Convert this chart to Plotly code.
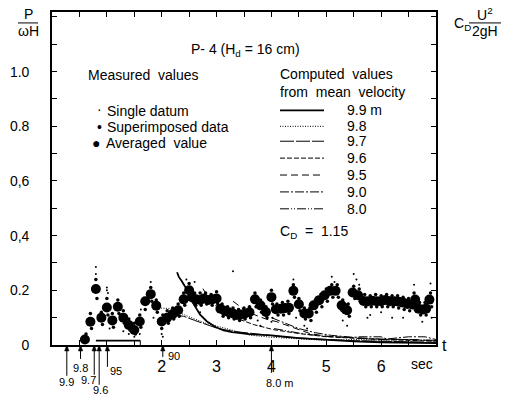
import plotly.graph_objects as go

# ---------------- data ----------------
avg_t = [0.60,0.70,0.80,0.90,1.00,1.10,1.20,1.30,1.40,1.50,1.60,1.70,1.80,1.90,2.00,2.10,2.20,2.30,2.40,2.50,
         2.55,2.62,2.70,2.77,2.85,2.92,3.00,3.07,3.15,3.22,3.30,3.37,3.45,3.52,3.60,3.70,3.80,3.90,4.00,4.08,
         4.17,4.25,4.32,4.40,4.50,4.60,4.68,4.77,4.87,4.97,5.07,5.17,5.28,5.33,5.38,5.48,5.58,5.68,5.76,5.84,
         5.92,6.00,6.08,6.16,6.24,6.32,6.40,6.48,6.57,6.62,6.68,6.76,6.82,6.88]
avg_v = [0.020,0.085,0.205,0.100,0.137,0.090,0.140,0.100,0.073,0.055,0.086,0.160,0.186,0.144,0.086,0.100,0.113,0.127,0.167,0.200,
         0.175,0.167,0.165,0.170,0.165,0.167,0.170,0.133,0.125,0.120,0.115,0.110,0.112,0.115,0.120,0.167,0.145,0.121,0.175,0.131,
         0.133,0.135,0.136,0.198,0.149,0.115,0.115,0.145,0.164,0.182,0.198,0.198,0.145,0.135,0.127,0.192,0.182,0.161,0.160,0.162,
         0.160,0.160,0.165,0.160,0.160,0.158,0.155,0.150,0.148,0.166,0.133,0.130,0.133,0.166]

sup_t = [0.62,0.70,0.72,0.80,0.82,0.90,0.92,1.00,1.02,1.10,1.12,1.20,1.22,1.30,1.32,1.40,1.42,1.50,1.52,1.60,
         1.62,1.70,1.80,1.82,1.90,1.92,2.00,2.02,2.10,2.12,2.20,2.22,2.30,2.32,2.40,2.42,2.50,2.52,2.60,2.62,
         2.70,2.72,2.80,2.82,2.90,2.92,3.00,3.02,3.10,3.12,3.20,3.22,3.30,3.32,3.40,3.42,3.50,3.52,3.60,3.62,
         3.70,3.72,3.80,3.82,3.90,3.92,4.00,4.02,4.10,4.12,4.20,4.22,4.30,4.32,4.40,4.42,4.50,4.52,4.60,4.62,
         4.70,4.72,4.80,4.82,4.90,4.92,5.00,5.02,5.10,5.12,5.20,5.22,5.30,5.32,5.40,5.42,5.50,5.52,5.60,5.62,
         5.70,5.72,5.80,5.82,5.90,5.92,6.00,6.02,6.10,6.12,6.20,6.22,6.30,6.32,6.40,6.42,6.50,6.52,6.60,6.62,
         6.70,6.72,6.80,6.82,6.90,6.92]
sup_v = [0.040,0.115,0.060,0.240,0.170,0.120,0.075,0.170,0.110,0.115,0.065,0.165,0.115,0.125,0.080,0.095,0.055,0.080,0.040,0.110,
         0.065,0.130,0.210,0.160,0.165,0.120,0.060,0.110,0.125,0.080,0.135,0.095,0.150,0.105,0.190,0.145,0.225,0.180,0.190,0.145,
         0.190,0.145,0.190,0.150,0.185,0.145,0.195,0.150,0.150,0.105,0.140,0.100,0.135,0.095,0.130,0.090,0.135,0.095,0.140,0.100,
         0.190,0.140,0.165,0.120,0.140,0.100,0.200,0.150,0.150,0.110,0.155,0.110,0.160,0.115,0.220,0.175,0.170,0.125,0.135,0.095,
         0.135,0.090,0.165,0.120,0.185,0.140,0.205,0.160,0.220,0.175,0.220,0.175,0.165,0.120,0.150,0.105,0.215,0.170,0.205,0.160,
         0.185,0.140,0.180,0.140,0.185,0.140,0.180,0.140,0.185,0.140,0.180,0.140,0.180,0.135,0.175,0.130,0.170,0.125,0.190,0.140,
         0.155,0.110,0.155,0.110,0.190,0.140]

single_t = [0.80,0.80,1.00,1.00,1.02,1.05,1.30,1.40,1.50,1.60,1.62,1.80,1.85,2.00,2.02,2.45,2.60,2.70,3.30,3.75,
            3.80,4.00,4.02,4.40,4.45,4.60,4.65,5.10,5.15,5.30,5.38,5.50,5.55,5.60,5.75,5.80,6.00,6.20,6.40,6.60,
            6.75,6.90,6.92]
single_v = [0.285,0.260,0.210,0.200,0.190,0.060,0.050,0.040,0.030,0.040,0.130,0.230,0.100,0.040,0.030,0.240,0.230,0.120,0.270,0.090,
            0.070,0.085,0.100,0.240,0.100,0.070,0.060,0.250,0.230,0.090,0.070,0.260,0.240,0.220,0.100,0.110,0.120,0.100,0.100,0.220,
            0.085,0.225,0.100]

# computed values from mean velocity (distance in m)
c99_t = [2.28,2.31,2.37,2.46,2.52,2.61,2.70,2.82,2.98,3.13,3.28,3.60,4.00,4.50,5.00,5.50,6.00,6.50,7.00]
c99_v = [0.266,0.250,0.232,0.202,0.171,0.141,0.111,0.087,0.066,0.053,0.047,0.040,0.035,0.025,0.018,0.013,0.010,0.008,0.007]
c98_t = [1.85,2.00,2.20,2.30,2.50,2.81,3.18,3.60,4.02,4.50,5.00,5.50,6.00,6.50,7.00]
c98_v = [0.133,0.135,0.133,0.120,0.103,0.079,0.060,0.036,0.028,0.022,0.017,0.020,0.018,0.020,0.015]
c97_t = [2.20,2.40,2.60,2.80,3.00,3.30,3.70,4.20,4.80,5.50,6.20,7.00]
c97_v = [0.110,0.105,0.090,0.075,0.062,0.050,0.040,0.030,0.022,0.016,0.013,0.010]
c96_t = [2.75,2.88,3.00,3.19,3.43,3.67,4.04,4.50,5.00,5.50,6.00,6.50,7.00]
c96_v = [0.206,0.165,0.141,0.117,0.093,0.075,0.056,0.042,0.030,0.024,0.020,0.017,0.014]
c95_t = [3.30,3.50,3.70,3.90,4.10,4.30,4.50,4.70,5.00,5.50,6.00,6.50,7.00]
c95_v = [0.160,0.130,0.110,0.095,0.085,0.070,0.055,0.042,0.032,0.025,0.020,0.020,0.016]
c90_t = [4.00,4.20,4.50,4.80,5.10,5.50,5.60,6.00,6.10,6.50,6.80,7.00]
c90_v = [0.100,0.085,0.060,0.045,0.035,0.028,0.030,0.030,0.022,0.030,0.030,0.020]
c80_t = [4.05,4.30,4.60,5.00,5.50,6.00,6.50,7.00]
c80_v = [0.060,0.050,0.040,0.032,0.026,0.022,0.020,0.017]

curve_names = ["9.9 m", "9.8", "9.7", "9.6", "9.5", "9.0", "8.0"]

# arrival of front at each distance (sec)
arrive_t = [0.27, 0.52, 0.77, 0.86, 1.01, 2.02, 4.00]
arrive_lbl = ["9.9", "9.8", "9.7", "9.6", "95", "90", "8.0 m"]

window_t = [0.80, 1.61]
window_v = [0.016, 0.016]

ytick_vals = [0, 0.2, 0.4, 0.6, 0.8, 1.0]
ytick_text = ["0", "0.2", "0,4", "0,6", "0.8", "1.0"]
xtick_vals = [2, 3, 4, 5, 6]
xtick_text = ["2", "3", "4", "5", "6"]

# ---------------- layout helpers ----------------
L, T, W, H = 52, 10, 384, 335
XMAX = 7.0
FONT = "Liberation Sans, Arial, sans-serif"


def px(x):
    return (x - L) / W


def py(y):
    return (T + H - y) / H


fig = go.Figure()

styles = [
    dict(width=1.8, dash="solid"),
    dict(width=1, dash="1px,1.5px"),
    dict(width=1, dash="14px,2px"),
    dict(width=1, dash="5px,2px"),
    dict(width=1, dash="7px,4px"),
    dict(width=1, dash="9px,2px,2px,2px"),
    dict(width=1, dash="9px,2px,1px,2px,1px,2px"),
]
curves = [(c99_t, c99_v), (c98_t, c98_v), (c97_t, c97_v), (c96_t, c96_v),
          (c95_t, c95_v), (c90_t, c90_v), (c80_t, c80_v)]
for (ct, cv), st, nm in zip(curves, styles, curve_names):
    fig.add_trace(go.Scatter(x=ct, y=cv, mode="lines", name=nm,
                             line=dict(color="black", width=st["width"], dash=st["dash"]),
                             showlegend=False, hoverinfo="skip"))

fig.add_trace(go.Scatter(x=window_t, y=window_v, mode="lines",
                         line=dict(color="black", width=1.6), showlegend=False))

fig.add_trace(go.Scatter(x=single_t, y=single_v, mode="markers", name="Single datum",
                         marker=dict(color="black", size=2), showlegend=False))
fig.add_trace(go.Scatter(x=sup_t, y=sup_v, mode="markers", name="Superimposed data",
                         marker=dict(color="black", size=3.5), showlegend=False))
fig.add_trace(go.Scatter(x=avg_t, y=avg_v, mode="markers", name="Averaged value",
                         marker=dict(color="black", size=10), showlegend=False))

ann = []
shapes = []


def txt(x, y, s, size=14, xa="left", ya="middle"):
    ann.append(dict(x=px(x), y=py(y), xref="paper", yref="paper", text=s, showarrow=False,
                    xanchor=xa, yanchor=ya, font=dict(size=size, color="black", family=FONT)))


# axis title P / ωH
txt(28, 12, "P", 14, "center")
txt(28, 29, "ωH", 14, "center")
# right label CD U²/2gH
txt(452, 22, "C<sub>D</sub>", 14, "left")
txt(485, 12, "U<sup>2</sup>", 14, "center")
txt(485, 29, "2gH", 14, "center")

# title / legend texts
txt(245, 48, "P- 4 (H<sub>d</sub> = 16 cm)", 14, "center")
txt(86, 73, "Measured  values", 14)
txt(99, 108, "·", 14, "center")
txt(105, 110, "Single datum", 14)
txt(99, 126, "•", 14, "center")
txt(105, 126, "Superimposed data", 14)
txt(96, 142, "●", 14, "center")
txt(104, 142, "Averaged  value", 14)
txt(278, 72, "Computed  values", 14)
txt(278, 90, "from  mean  velocity", 14)

leg_y = [109, 125, 140, 157, 174, 191, 208]
for yy, st, nm in zip(leg_y, styles, curve_names):
    shapes.append(dict(type="line", xref="paper", yref="paper", x0=px(280), x1=px(324),
                       y0=py(yy), y1=py(yy), line=dict(color="black", width=st["width"], dash=st["dash"])))
    txt(345, yy, nm, 14)
txt(278, 231, "C<sub>D</sub>  =  1.15", 14)

# fraction bars
shapes.append(dict(type="line", xref="paper", yref="paper", x0=px(18), x1=px(38),
                   y0=py(21), y1=py(21), line=dict(color="black", width=1)))
shapes.append(dict(type="line", xref="paper", yref="paper", x0=px(469), x1=px(501),
                   y0=py(21), y1=py(21), line=dict(color="black", width=1)))
# end tick of the window bar
shapes.append(dict(type="line", xref="x", yref="y", x0=window_t[1], x1=window_t[1],
                   y0=0, y1=window_v[1], line=dict(color="black", width=1)))

# x-axis extras
txt(422, 364, "sec", 14, "center")
txt(444, 345, "t", 16, "center")

# arrows under the axis (line + small arrowhead pointing up to the axis)
arrow_len = [31, 14, 30, 40, 22, 12, 28]
lbl_pos = [(66, 382), (80, 368), (88, 380), (100, 390), (116, 371), (174, 356), (280, 383)]
head_dx = 2.2 * XMAX / W
for at, ln, lb, (lx, ly) in zip(arrive_t, arrow_len, arrive_lbl, lbl_pos):
    y_axis = py(T + H)
    shapes.append(dict(type="line", xref="x", yref="paper", x0=at, x1=at,
                       y0=y_axis, y1=py(T + H + ln), line=dict(color="black", width=1)))
    shapes.append(dict(type="path", xref="x", yref="paper",
                       path=f"M {at - head_dx},{py(T + H + 6)} L {at},{y_axis} L {at + head_dx},{py(T + H + 6)} Z",
                       fillcolor="black", line=dict(color="black", width=0.5)))
    txt(lx, ly, lb, 11, "center")

fig.update_layout(
    width=510, height=397,
    margin=dict(l=L, r=510 - L - W, t=T, b=397 - T - H),
    paper_bgcolor="white", plot_bgcolor="white",
    annotations=ann, shapes=shapes,
    font=dict(family=FONT, color="black", size=14),
)
fig.update_xaxes(range=[0, XMAX], showgrid=False, zeroline=False, showline=True, linecolor="black",
                 linewidth=1.6, mirror="ticks", ticks="inside", ticklen=5, tickwidth=1,
                 tickcolor="black", tickvals=xtick_vals, ticktext=xtick_text,
                 minor=dict(ticks="inside", dtick=0.5, tick0=0, ticklen=5, tickwidth=1,
                            tickcolor="black", showgrid=False),
                 tickfont=dict(size=16), ticklabelstandoff=6)
fig.update_yaxes(range=[0, 1.218], showgrid=False, zeroline=False, showline=True, linecolor="black",
                 linewidth=1.6, mirror="ticks", ticks="inside", ticklen=5, tickwidth=1,
                 tickcolor="black", tickvals=ytick_vals, ticktext=ytick_text,
                 minor=dict(ticks="inside", dtick=0.1, tick0=0, ticklen=5, tickwidth=1,
                            tickcolor="black", showgrid=False),
                 tickfont=dict(size=14), ticklabelstandoff=18)

fig.write_html("out.html")
